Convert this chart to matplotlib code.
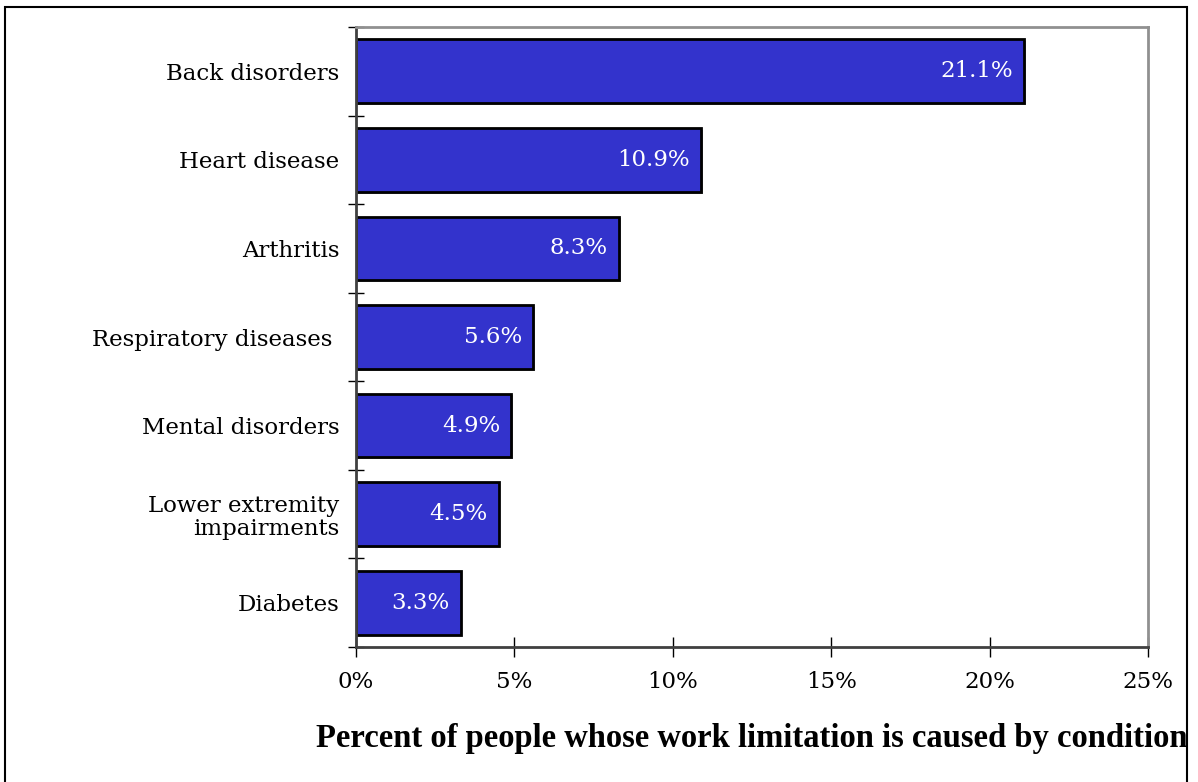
import matplotlib
matplotlib.use("Agg")
import matplotlib.pyplot as plt
from matplotlib.patches import Rectangle
from matplotlib.ticker import MultipleLocator, PercentFormatter
import numpy as np

conditions = ["Back disorders", "Heart disease", "Arthritis", "Respiratory diseases ",
              "Mental disorders", "Lower extremity\nimpairments", "Diabetes"]
percent = [21.1, 10.9, 8.3, 5.6, 4.9, 4.5, 3.3]

plt.rcParams['font.family'] = ['DejaVu Serif']

fig = plt.figure(figsize=(11.98, 7.82), dpi=100)
ax = fig.add_axes([356 / 1198, 1 - 647 / 782, 792 / 1198, 620 / 782])

# border around the whole figure
fig.patches.append(Rectangle((5 / 1198, -0.02), 1182 / 1198, (782 - 7) / 782 + 0.02,
                             transform=fig.transFigure, fill=False,
                             edgecolor='black', linewidth=1.5))

y = np.arange(len(conditions))
# light drop shadow behind each bar
ax.barh(y + 0.02, percent, height=0.72, left=0.06, color='#a0a0a0', zorder=1)
bars = ax.barh(y, percent, height=0.72, color='#3333cc', edgecolor='black',
               linewidth=2, zorder=2)

for yi, v in zip(y, percent):
    ax.text(v - 0.35, yi, f"{v}%", color='white', ha='right', va='center',
            fontsize=16.5, zorder=3)

ax.set_xlim(0, 25)
ax.set_ylim(len(conditions) - 0.5, -0.5)
ax.xaxis.set_major_locator(MultipleLocator(5))
ax.xaxis.set_major_formatter(PercentFormatter(decimals=0))

ax.set_yticks(y)
ax.set_yticklabels(conditions, fontsize=16.5, linespacing=1.1)
ax.set_yticks(np.arange(len(conditions) + 1) - 0.5, minor=True)
ax.tick_params(axis='y', which='major', length=0, pad=12)
ax.tick_params(axis='y', which='minor', direction='inout', length=12, width=1)
ax.tick_params(axis='x', direction='inout', length=14, width=1, labelsize=16.5, pad=10)

for side in ('top', 'right'):
    ax.spines[side].set_color('#909090')
    ax.spines[side].set_linewidth(2)
for side in ('left', 'bottom'):
    ax.spines[side].set_color('#404040')
    ax.spines[side].set_linewidth(2)

ax.set_xlabel("Percent of people whose work limitation is caused by condition",
              fontsize=23.5, fontweight='bold', family='Liberation Serif', labelpad=22)

fig.savefig("out.png", dpi=100)
